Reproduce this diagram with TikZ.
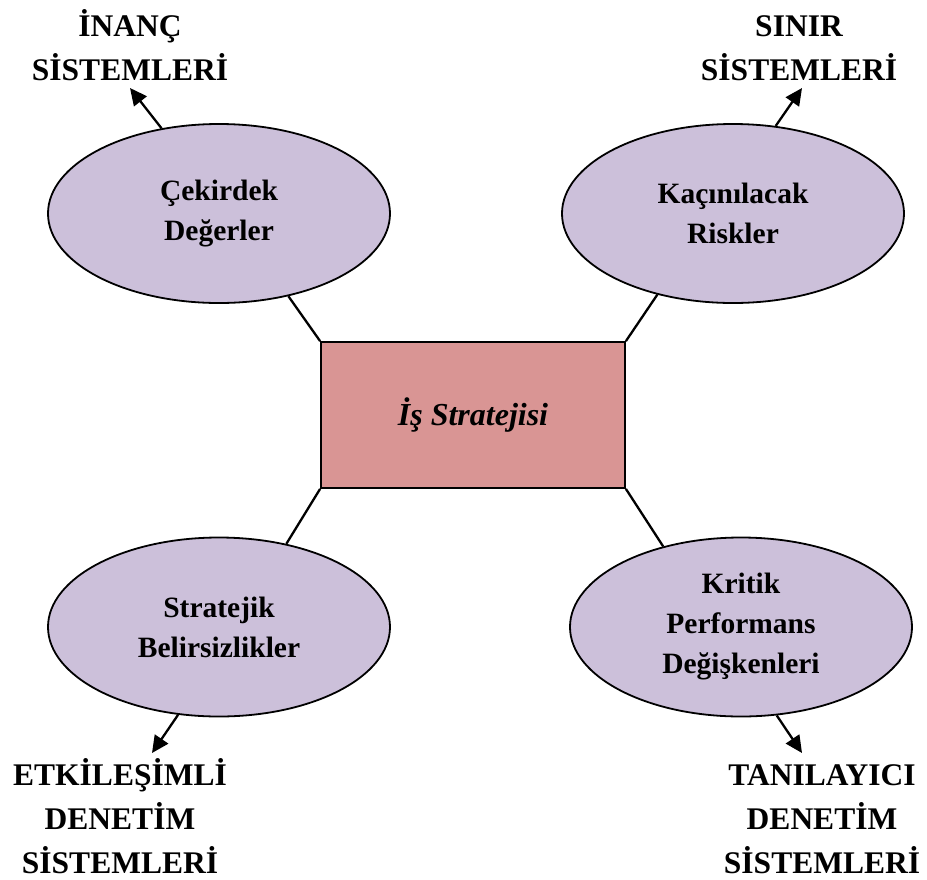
\documentclass[tikz,border=0pt]{standalone}
\usepackage{fontspec}
\setmainfont{Liberation Serif}
\usetikzlibrary{shapes.geometric,arrows.meta}
\definecolor{lilac}{HTML}{CCC0DA}
\definecolor{rose}{HTML}{D99594}
\begin{document}
\begin{tikzpicture}[x=1pt,y=-1pt,
  oval/.style={ellipse,draw=black,line width=1.8pt,fill=lilac,
    minimum width=342pt,minimum height=179pt,inner sep=0pt,align=center,
    font=\fontsize{29.5}{40}\selectfont\bfseries},
  core/.style={rectangle,draw=black,line width=1.8pt,fill=rose,
    minimum width=304pt,minimum height=146pt,inner sep=0pt,
    font=\fontsize{32}{38}\selectfont\bfseries\itshape},
  tag/.style={align=center,inner sep=0pt,anchor=base,
    font=\fontsize{31.5}{44}\selectfont\bfseries},
  link/.style={line width=2.3pt},
  pointer/.style={line width=2.3pt,-{Triangle[length=17pt,width=16pt]}}]
\useasboundingbox (0,0) rectangle (927,879);

% central strategy box
\node[core] (R) at (473,415) {İş Stratejisi};

% the four levers
\node[oval] (TL) at (219,213.5) {Çekirdek\\Değerler};
\node[oval] (TR) at (733,213.5) {Kaçınılacak\\Riskler};
\node[oval] (BL) at (219,627) {Stratejik\\Belirsizlikler};
\node[oval] (BR) at (741,627) {Kritik\\Performans\\Değişkenleri};

% links between the box corners and the ovals
\draw[link] (R.north west) -- (TL.-50.8);
\draw[link] (R.north east) -- (TR.-133);
\draw[link] (R.south west) -- (BL.51.8);
\draw[link] (R.south east) -- (BR.134.6);

% control system labels (anchored on the baseline of the last line)
\node[tag] (lTL) at (130,80) {İNANÇ\\SİSTEMLERİ};
\node[tag] (lTR) at (799,80) {SINIR\\SİSTEMLERİ};
\node[tag] (lBL) at (120,873) {ETKİLEŞİMLİ\\DENETİM\\SİSTEMLERİ};
\node[tag] (lBR) at (822,873) {TANILAYICI\\DENETİM\\SİSTEMLERİ};

% arrows from the ovals towards their labels
\coordinate (tTL) at (130,88);
\coordinate (tTR) at (802,88);
\coordinate (tBL) at (152,753);
\coordinate (tBR) at (802,753);
\draw[pointer] (TL.124.6) -- (tTL);
\draw[pointer] (TR.64.6) -- (tTR);
\draw[pointer] (BL.-115.5) -- (tBL);
\draw[pointer] (BR.-68.9) -- (tBR);
\end{tikzpicture}
\end{document}
